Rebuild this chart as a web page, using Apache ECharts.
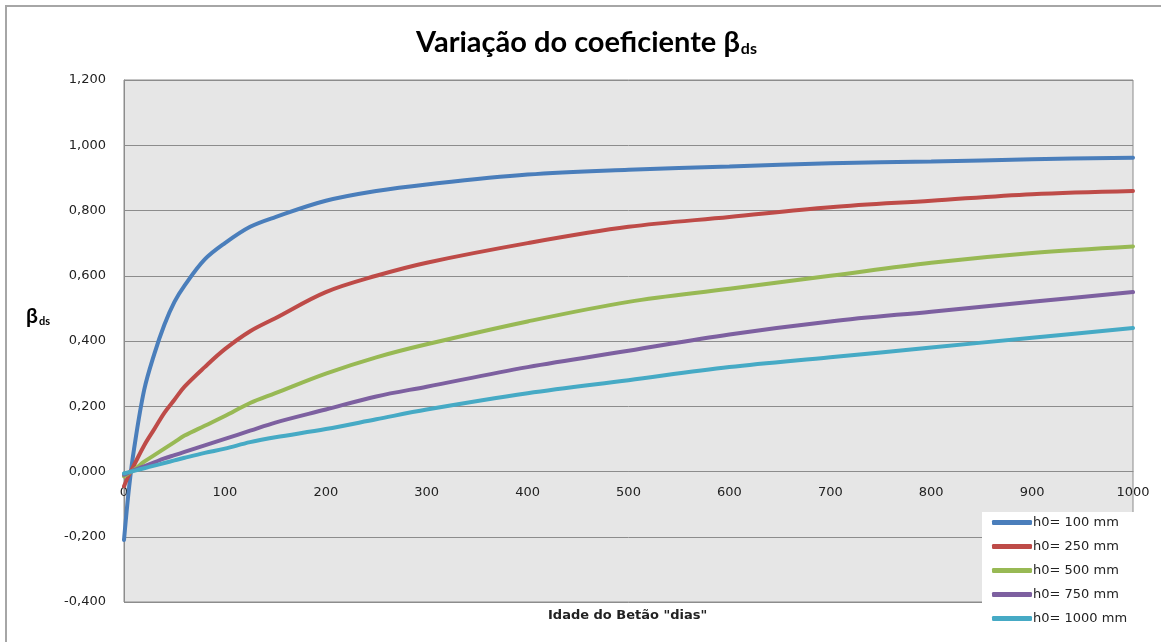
<!DOCTYPE html>
<html>
<head>
<meta charset="utf-8">
<script src="https://cdn.jsdelivr.net/npm/echarts@6/dist/echarts.min.js"></script>
<style>
  html, body { margin: 0; padding: 0; background: #fff; }
  #chart { width: 1161px; height: 642px; }
</style>
</head>
<body>
<div id="chart"></div>
<script>
// Idade do betão (dias)
const dias = [0, 5, 10, 20, 30, 40, 50, 60, 80, 100, 125, 150, 200, 250, 300, 400, 500, 600, 700, 800, 900, 1000];

// Valores de beta_ds
const h0_100  = [-0.21, -0.05, 0.07, 0.25, 0.36, 0.45, 0.52, 0.57, 0.65, 0.70, 0.75, 0.78, 0.83, 0.86, 0.88, 0.91, 0.925, 0.935, 0.945, 0.95, 0.957, 0.962];
const h0_250  = [-0.045, -0.01, 0.02, 0.08, 0.13, 0.18, 0.22, 0.26, 0.32, 0.375, 0.43, 0.47, 0.55, 0.60, 0.64, 0.70, 0.75, 0.78, 0.81, 0.83, 0.85, 0.86];
const h0_500  = [-0.015, -0.005, 0.005, 0.03, 0.05, 0.07, 0.09, 0.11, 0.14, 0.17, 0.21, 0.24, 0.30, 0.35, 0.39, 0.46, 0.52, 0.56, 0.60, 0.64, 0.67, 0.69];
const h0_750  = [-0.01, -0.003, 0.004, 0.016, 0.028, 0.04, 0.05, 0.06, 0.08, 0.10, 0.125, 0.15, 0.19, 0.23, 0.26, 0.32, 0.37, 0.42, 0.46, 0.49, 0.52, 0.55];
const h0_1000 = [-0.006, -0.002, 0.002, 0.01, 0.018, 0.026, 0.034, 0.042, 0.057, 0.07, 0.09, 0.105, 0.13, 0.16, 0.19, 0.24, 0.28, 0.32, 0.35, 0.38, 0.41, 0.44];

const nomes = ['h0= 100 mm', 'h0= 250 mm', 'h0= 500 mm', 'h0= 750 mm', 'h0= 1000 mm'];
const valores = [h0_100, h0_250, h0_500, h0_750, h0_1000];
const cores = ['#4a7ebb', '#be4b48', '#98b954', '#7d60a0', '#46aac5'];

const chart = echarts.init(document.getElementById('chart'));

// Construir as séries
const series = nomes.map((nome, i) => ({
    name: nome,
    type: 'line',
    data: dias.map((d, j) => [d, valores[i][j]]),
    smooth: 0.35,
    showSymbol: false,
    lineStyle: { width: 4, color: cores[i], cap: 'round' },
    itemStyle: { color: cores[i] },
    z: 3
}));

const option = {
    animation: false,
    backgroundColor: '#fff',
    title: {
        text: '{t|Variação do coeficiente β}{s|ds}',
        left: 411,
        top: 23,
        textStyle: {
            rich: {
                t: { fontFamily: 'Lato', fontWeight: 'bold', fontSize: 29, color: '#000' },
                s: { fontFamily: 'Lato', fontWeight: 'bold', fontSize: 16, color: '#000', padding: [13, 0, 0, 1] }
            }
        }
    },
    grid: {
        left: 124,
        right: 28,
        top: 80,
        bottom: 40,
        show: true,
        backgroundColor: '#e6e6e6',
        borderColor: '#8c8c8c',
        borderWidth: 1
    },
    legend: {
        data: nomes,
        orient: 'vertical',
        left: 982,
        top: 512,
        width: 150,
        backgroundColor: '#ffffff',
        padding: [4, 10, 4, 10],
        itemGap: 11,
        itemWidth: 40,
        itemHeight: 5,
        icon: 'roundRect',
        textStyle: { fontFamily: 'DejaVu Sans', fontSize: 13, color: '#222', padding: [0, 0, 0, -4] }
    },
    xAxis: {
        type: 'value',
        min: 0,
        max: 1000,
        interval: 100,
        // eixo horizontal desenhado na linha do zero
        offset: -130.5,
        axisLine: { show: true, onZero: false, lineStyle: { color: '#8c8c8c', width: 1 } },
        axisTick: { show: false },
        splitLine: { show: false },
        axisLabel: {
            margin: 15,
            fontFamily: 'DejaVu Sans',
            fontSize: 13,
            color: '#222',
            formatter: v => String(v)
        }
    },
    yAxis: {
        type: 'value',
        min: -0.4,
        max: 1.2,
        interval: 0.2,
        axisLine: { show: true, onZero: false, lineStyle: { color: '#8c8c8c' } },
        axisTick: { show: false },
        splitLine: { show: true, lineStyle: { color: '#8c8c8c', width: 1 } },
        axisLabel: {
            margin: 18,
            fontFamily: 'DejaVu Sans',
            fontSize: 13,
            color: '#222',
            formatter: v => v.toFixed(3).replace('.', ',')
        }
    },
    graphic: [
        {
            type: 'rect',
            shape: { x: 6, y: 6, width: 1180, height: 660 },
            style: { fill: 'none', stroke: '#a6a6a6', lineWidth: 2 },
            silent: true
        },
        {
            type: 'text',
            left: 26,
            top: 306,
            style: {
                text: '{b|β}{s|ds}',
                rich: {
                    b: { fontFamily: 'Lato', fontWeight: 'bold', fontSize: 21, color: '#000' },
                    s: { fontFamily: 'Lato', fontWeight: 'bold', fontSize: 11, color: '#000', padding: [10, 0, 0, 1] }
                }
            }
        },
        {
            type: 'text',
            left: 548,
            top: 609,
            style: {
                text: 'Idade do Betão "dias"',
                fontFamily: 'DejaVu Sans',
                fontWeight: 'bold',
                fontSize: 13,
                fill: '#222'
            }
        }
    ],
    series: series
};

chart.setOption(option);
</script>
</body>
</html>
